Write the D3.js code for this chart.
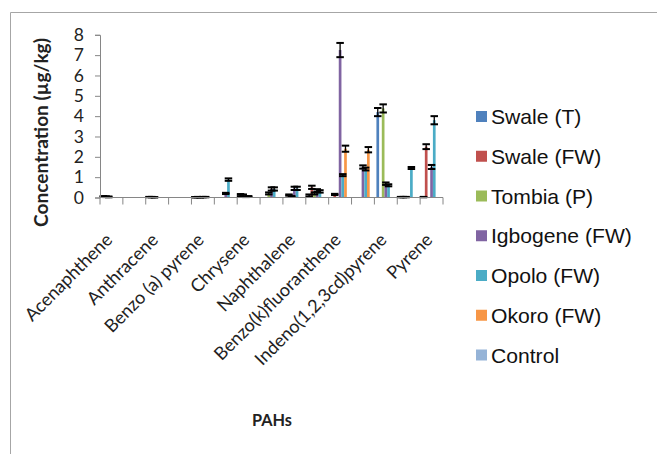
<!DOCTYPE html>
<html>
<head>
<meta charset="utf-8">
<script src="https://cdn.jsdelivr.net/npm/d3@7/dist/d3.min.js"></script>
<style>
  html, body { margin: 0; padding: 0; background: #ffffff; }
  svg { display: block; }
</style>
</head>
<body>
<svg id="chart" width="657" height="454"></svg>
<script>
// ---------------- DATA ----------------
// 15 categories on the axis; Excel shows only every second label.
const categories = [
  "Acenaphthene", "(unlabelled 1)", "Anthracene", "(unlabelled 2)",
  "Benzo (a) pyrene", "(unlabelled 3)", "Chrysene", "(unlabelled 4)",
  "Naphthalene", "(unlabelled 5)", "Benzo(k)fluoranthene", "(unlabelled 6)",
  "Indeno(1,2,3cd)pyrene", "(unlabelled 7)", "Pyrene"
];
const seriesNames = ["Swale (T)", "Swale (FW)", "Tombia (P)", "Igbogene (FW)", "Opolo (FW)", "Okoro (FW)", "Control"];
const seriesColors = ["#4F81BD", "#C0504D", "#9BBB59", "#8064A2", "#4BACC6", "#F79646", "#95B3D7"];

const swaleT     = [0.05, 0, 0.02, 0, 0.01, 0,    0.12, 0,    0,    0.10, 0,    0,    4.20, 0.02, 0.02];
const swaleFW    = [0.04, 0, 0.02, 0, 0.02, 0,    0.10, 0,    0.12, 0.50, 0.15, 0,    0,    0.02, 2.50];
const tombiaP    = [0.03, 0, 0.01, 0, 0.01, 0,    0.04, 0.20, 0.05, 0.20, 0,    0,    4.38, 0.02, 0];
const igbogeneFW = [0,    0, 0,    0, 0.02, 0.20, 0.05, 0.42, 0.45, 0.35, 7.25, 1.50, 0.68, 0,    1.50];
const opoloFW    = [0,    0, 0,    0, 0.02, 0.88, 0,    0.42, 0.45, 0.30, 1.10, 1.40, 0.60, 1.45, 3.80];
const okoroFW    = [0,    0, 0,    0, 0,    0,    0,    0,    0,    0,    2.40, 2.35, 0,    0,    0];
const control    = [0,    0, 0,    0, 0,    0,    0,    0,    0,    0,    0,    0,    0,    0,    0];

const errT       = [0.02, 0, 0.01, 0, 0.01, 0,    0.05, 0,    0,    0.05, 0,    0,    0.20, 0.01, 0.01];
const errFW      = [0.02, 0, 0.01, 0, 0.01, 0,    0.05, 0,    0.03, 0.08, 0.03, 0,    0,    0.01, 0.12];
const errP       = [0.02, 0, 0.01, 0, 0.01, 0,    0.02, 0.05, 0.02, 0.05, 0,    0,    0.20, 0.01, 0];
const errIg      = [0,    0, 0,    0, 0.01, 0.03, 0.02, 0.08, 0.08, 0.06, 0.35, 0.08, 0.06, 0,    0.10];
const errOp      = [0,    0, 0,    0, 0.01, 0.06, 0,    0.08, 0.08, 0.06, 0.05, 0.07, 0.05, 0.05, 0.20];
const errOk      = [0,    0, 0,    0, 0,    0,    0,    0,    0,    0,    0.15, 0.13, 0,    0,    0];
const errC       = [0,    0, 0,    0, 0,    0,    0,    0,    0,    0,    0,    0,    0,    0,    0];

const yTicks = [0, 1, 2, 3, 4, 5, 6, 7, 8];
const yTitle = "Concentration (µg/kg)";
const xTitle = "PAHs";

const values = [swaleT, swaleFW, tombiaP, igbogeneFW, opoloFW, okoroFW, control];
const errors = [errT, errFW, errP, errIg, errOp, errOk, errC];

// ---------------- LAYOUT ----------------
const svg = d3.select("#chart");
const plot = { left: 100, right: 443, top: 34.8, bottom: 197.5 };
const axisColor = "#868686";
const fontFamily = "Lato, 'Open Sans', sans-serif";

function fit(sel, target) {
  const w = sel.node().getComputedTextLength();
  const fs = parseFloat(sel.attr("font-size"));
  const nf = fs * target / w;
  sel.attr("font-size", nf);
  return nf;
}

// outer frame (top & left edges visible)
svg.append("line").attr("x1", 10.5).attr("x2", 657).attr("y1", 12.5).attr("y2", 12.5)
  .attr("stroke", "#a6a6a6").attr("stroke-width", 1);
svg.append("line").attr("x1", 10.5).attr("x2", 10.5).attr("y1", 12.5).attr("y2", 454)
  .attr("stroke", "#a6a6a6").attr("stroke-width", 1);

const x0 = d3.scaleBand().domain(categories).range([plot.left, plot.right]).paddingInner(0).paddingOuter(0);
const x1 = d3.scaleBand().domain(seriesNames).range([0, x0.bandwidth()]).paddingInner(0).paddingOuter(0.75);
const y = d3.scaleLinear().domain([0, 8]).range([plot.bottom, plot.top]);

// bars
const barData = [];
seriesNames.forEach((s, si) => {
  categories.forEach((c, ci) => {
    barData.push({ s, si, c, v: values[si][ci], e: errors[si][ci] });
  });
});

svg.append("g").selectAll("rect").data(barData.filter(d => d.v > 0)).join("rect")
  .attr("x", d => x0(d.c) + x1(d.s))
  .attr("width", x1.bandwidth())
  .attr("y", d => y(d.v))
  .attr("height", d => y(0) - y(d.v))
  .attr("fill", d => seriesColors[d.si]);

// error bars
const eb = svg.append("g").attr("stroke", "#000");
const ebData = barData.filter(d => d.e > 0);
const capW = 7.5;
eb.selectAll("line.v").data(ebData).join("line").attr("class", "v")
  .attr("x1", d => x0(d.c) + x1(d.s) + x1.bandwidth() / 2)
  .attr("x2", d => x0(d.c) + x1(d.s) + x1.bandwidth() / 2)
  .attr("y1", d => y(d.v + d.e)).attr("y2", d => y(Math.max(0, d.v - d.e)))
  .attr("stroke-width", 1.3);
["top", "bot"].forEach(k => {
  eb.selectAll("line." + k).data(ebData).join("line").attr("class", k)
    .attr("x1", d => x0(d.c) + x1(d.s) + x1.bandwidth() / 2 - capW / 2)
    .attr("x2", d => x0(d.c) + x1(d.s) + x1.bandwidth() / 2 + capW / 2)
    .attr("y1", d => y(k === "top" ? d.v + d.e : Math.max(0, d.v - d.e)))
    .attr("y2", d => y(k === "top" ? d.v + d.e : Math.max(0, d.v - d.e)))
    .attr("stroke-width", 2);
});

// y axis
const yAxis = d3.axisLeft(y).tickValues(yTicks).tickSize(5).tickPadding(11).tickFormat(d3.format("d"));
const gy = svg.append("g").attr("transform", `translate(${plot.left},0)`).call(yAxis);
gy.select(".domain").attr("stroke", axisColor);
gy.selectAll(".tick line").attr("stroke", axisColor);
gy.selectAll(".tick text").attr("font-family", fontFamily).attr("font-size", 17.5).attr("fill", "#222");

// x axis: ticks at category boundaries
const gx = svg.append("g").attr("transform", `translate(0,${plot.bottom})`);
gx.append("line").attr("x1", plot.left).attr("x2", plot.right).attr("stroke", axisColor);
const boundaries = categories.map(c => x0(c)).concat([plot.right]);
gx.selectAll("line.tk").data(boundaries).join("line").attr("class", "tk")
  .attr("x1", d => d).attr("x2", d => d).attr("y1", 0).attr("y2", 7).attr("stroke", axisColor);

const labelG = svg.append("g");
const labels = labelG.selectAll("text").data(categories.filter((c, i) => i % 2 === 0)).join("text")
  .attr("transform", d => `translate(${x0(d) + x0.bandwidth() / 2 + 2},241) rotate(-45)`)
  .attr("text-anchor", "end")
  .attr("font-family", fontFamily).attr("font-size", 18).attr("fill", "#222")
  .text(d => d);
const lf = fit(d3.select(labels.nodes()[0]), 115);
labels.attr("font-size", lf);

// axis titles
const yt = svg.append("text")
  .attr("transform", "translate(48,132.5) rotate(-90)")
  .attr("text-anchor", "middle").attr("font-family", fontFamily).attr("font-weight", "bold")
  .attr("font-size", 18).attr("fill", "#222").text(yTitle);
fit(yt, 189);
const xt = svg.append("text").attr("x", 272).attr("y", 426).attr("text-anchor", "middle")
  .attr("font-family", fontFamily).attr("font-weight", "bold")
  .attr("font-size", 16).attr("fill", "#222").text(xTitle);
fit(xt, 40);

// legend
const lg = svg.append("g");
const rowY = i => 116.5 + i * 39.75;
lg.selectAll("rect").data(seriesNames).join("rect")
  .attr("x", 476).attr("y", (d, i) => rowY(i) - 5.5).attr("width", 11).attr("height", 11)
  .attr("fill", (d, i) => seriesColors[i]);
const lt = lg.selectAll("text").data(seriesNames).join("text")
  .attr("x", 491).attr("y", (d, i) => rowY(i) + 7.5)
  .attr("font-family", "'Liberation Sans', Arial, sans-serif").attr("font-size", 20).attr("fill", "#111")
  .text(d => d);
const lfs = fit(d3.select(lt.nodes()[3]), 141);
lt.attr("font-size", lfs);
</script>
</body>
</html>
